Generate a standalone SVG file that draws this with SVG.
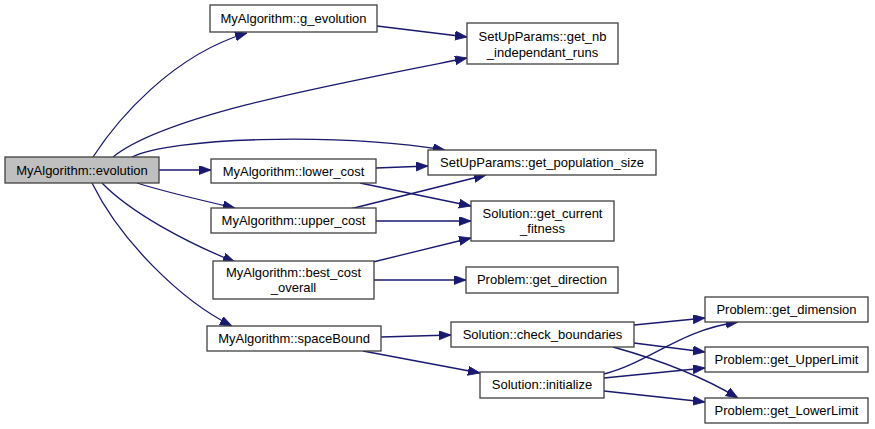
<svg xmlns="http://www.w3.org/2000/svg" width="875" height="429" viewBox="0 0 875 429">
<defs>
<marker id="ah" markerUnits="userSpaceOnUse" markerWidth="13" markerHeight="10" refX="12" refY="4.5" orient="auto">
<path d="M0,0 L12,4.5 L0,9 z" fill="#191970" stroke="#191970" stroke-width="0.8"/>
</marker>
</defs>
<style>
.n rect{fill:#fff;stroke:#404040;stroke-width:1.3}
.n.g rect{fill:#bfbfbf}
.n text{font-family:"Liberation Sans",Arial,sans-serif;font-size:13px;fill:#000;text-anchor:middle;dominant-baseline:central}
#edges path{fill:none;stroke:#191970;stroke-width:1.3;marker-end:url(#ah)}
</style>
<rect width="875" height="429" fill="#fff"/>
<g id="edges">
<path d="M93,157 C117,120 172,55 247,33"/>
<path d="M113,157 C165,115 330,85 467,58"/>
<path d="M377,26 L467,37"/>
<path d="M132,157 C170,138 330,132 445,150"/>
<path d="M159,170 L211,170"/>
<path d="M376,168 L428,166"/>
<path d="M360,183 L471,206"/>
<path d="M137,183 C165,192 200,200 235,208"/>
<path d="M350,209 L486,175"/>
<path d="M376,221 L471,221"/>
<path d="M102,183 C130,212 185,242 235,262"/>
<path d="M373,262 L471,238"/>
<path d="M374,280 L466,280"/>
<path d="M92,183 C120,240 180,300 232,326"/>
<path d="M381,337 L451,335"/>
<path d="M363,351 L480,373"/>
<path d="M634,325 L705,318"/>
<path d="M634,343 L705,352"/>
<path d="M613,347 C660,360 700,375 738,398"/>
<path d="M604,374 C650,362 680,330 738,322"/>
<path d="M604,378 L705,368"/>
<path d="M604,391 L705,402"/>
</g>
<g id="evolution" class="n g"><rect x="5" y="157" width="154" height="26"/><text x="82" y="170">MyAlgorithm::evolution</text></g>
<g id="g_evolution" class="n"><rect x="210" y="5" width="167" height="27"/><text x="293.5" y="18.5">MyAlgorithm::g_evolution</text></g>
<g id="get_nb_independant_runs" class="n"><rect x="467" y="23" width="151" height="41"/><text x="542.5" y="36">SetUpParams::get_nb</text><text x="542.5" y="52">_independant_runs</text></g>
<g id="get_population_size" class="n"><rect x="428" y="150" width="228" height="25"/><text x="542" y="162.5">SetUpParams::get_population_size</text></g>
<g id="lower_cost" class="n"><rect x="211" y="159" width="165" height="24"/><text x="293.5" y="171">MyAlgorithm::lower_cost</text></g>
<g id="upper_cost" class="n"><rect x="211" y="208" width="165" height="25"/><text x="293.5" y="220.5">MyAlgorithm::upper_cost</text></g>
<g id="get_current_fitness" class="n"><rect x="471" y="201" width="143" height="40"/><text x="542.5" y="213">Solution::get_current</text><text x="542.5" y="228">_fitness</text></g>
<g id="best_cost_overall" class="n"><rect x="213" y="261" width="161" height="38"/><text x="293.5" y="272">MyAlgorithm::best_cost</text><text x="293.5" y="287">_overall</text></g>
<g id="get_direction" class="n"><rect x="466" y="267" width="152" height="26"/><text x="542" y="279.5">Problem::get_direction</text></g>
<g id="spaceBound" class="n"><rect x="207" y="326" width="174" height="25"/><text x="294" y="338.5">MyAlgorithm::spaceBound</text></g>
<g id="check_boundaries" class="n"><rect x="451" y="322" width="183" height="25"/><text x="542.5" y="334">Solution::check_boundaries</text></g>
<g id="initialize" class="n"><rect x="480" y="372" width="124" height="26"/><text x="542" y="384.5">Solution::initialize</text></g>
<g id="get_dimension" class="n"><rect x="705" y="297" width="163" height="25"/><text x="786.5" y="309">Problem::get_dimension</text></g>
<g id="get_UpperLimit" class="n"><rect x="705" y="347" width="163" height="25"/><text x="786.5" y="359">Problem::get_UpperLimit</text></g>
<g id="get_LowerLimit" class="n"><rect x="705" y="398" width="163" height="25"/><text x="786.5" y="410">Problem::get_LowerLimit</text></g>
</svg>
